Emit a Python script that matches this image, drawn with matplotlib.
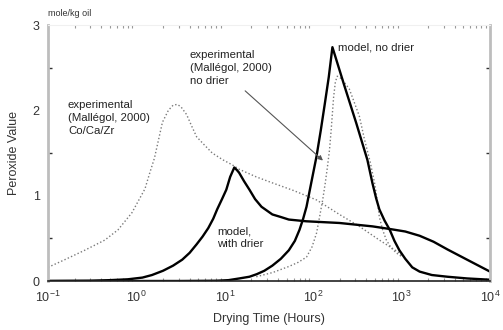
import numpy as np
import matplotlib.pyplot as plt
from matplotlib.ticker import LogLocator, MultipleLocator, FixedLocator

plt.rcParams['font.family'] = ['Liberation Sans', 'DejaVu Sans']

# experimental (Mallégol, 2000) Co/Ca/Zr  -- dotted
exp_drier_t = [0.1, 0.155, 0.26, 0.44, 0.62, 0.89, 1.08, 1.25, 1.4, 1.6, 1.97, 2.3, 2.6, 2.9,
               3.2, 3.7, 4.2, 4.8, 5.8, 7.2, 9.5, 12.2, 14.5, 22.7, 34.5, 60, 109, 198, 333,
               560, 944, 1020]
exp_drier_y = [0.16, 0.25, 0.36, 0.48, 0.60, 0.80, 0.96, 1.08, 1.25, 1.44, 1.86, 2.0, 2.06, 2.07,
               2.04, 1.95, 1.82, 1.69, 1.60, 1.50, 1.42, 1.36, 1.31, 1.22, 1.15, 1.06, 0.95,
               0.78, 0.64, 0.48, 0.33, 0.28]

# experimental (Mallégol, 2000) no drier -- dotted
exp_nodrier_t = [22.7, 35, 53, 68, 84, 97, 109, 118, 128, 137, 145, 153, 160, 170, 178, 187,
                 210, 256, 290, 333, 380, 440, 494, 530, 560, 610, 672, 760, 870, 1020]
exp_nodrier_y = [0.05, 0.10, 0.17, 0.22, 0.28, 0.40, 0.56, 0.75, 0.95, 1.15, 1.34, 1.54, 1.78,
                 2.15, 2.33, 2.40, 2.37, 2.25, 2.10, 1.93, 1.66, 1.40, 1.15, 0.95, 0.75, 0.60,
                 0.48, 0.39, 0.33, 0.28]

# model, with drier -- solid
mod_drier_t = [0.1, 0.3, 0.5, 0.8, 1.17, 1.5, 2.0, 2.6, 3.3, 4.0, 4.8, 5.6, 6.5, 7.4, 8.2, 9.3,
               10.4, 11.5, 12.8, 13.7, 14.5, 16.5, 19, 22, 26, 34.5, 43, 53, 83, 198, 470, 730,
               1100, 1600, 2300, 3300, 5500, 10000]
mod_drier_y = [0.0, 0.003, 0.01, 0.02, 0.04, 0.07, 0.12, 0.18, 0.25, 0.33, 0.43, 0.52, 0.62,
               0.73, 0.84, 0.96, 1.07, 1.22, 1.33, 1.30, 1.27, 1.17, 1.07, 0.96, 0.87, 0.78,
               0.75, 0.72, 0.70, 0.68, 0.64, 0.61, 0.58, 0.53, 0.46, 0.37, 0.25, 0.11]

# model, no drier -- solid
mod_nodrier_t = [0.1, 3, 8, 11, 14.6, 19, 23, 28, 34.5, 43, 53, 62, 70, 77, 84, 95, 109, 122,
                 135, 150, 165, 225, 307, 410, 467, 515, 560, 640, 734, 830, 944, 1100, 1320,
                 1600, 2200, 3300, 5500, 10000]
mod_nodrier_y = [0.0, 0.0, 0.003, 0.01, 0.03, 0.05, 0.08, 0.12, 0.18, 0.26, 0.36, 0.47, 0.60,
                 0.73, 0.87, 1.15, 1.46, 1.77, 2.07, 2.39, 2.74, 2.29, 1.85, 1.42, 1.15, 0.97,
                 0.84, 0.71, 0.60, 0.47, 0.36, 0.26, 0.16, 0.11, 0.07, 0.05, 0.03, 0.015]

fig = plt.figure(figsize=(5.03, 3.30), dpi=100)
ax = fig.add_axes([48 / 503, 1 - 281 / 330, 442 / 503, 256 / 330])

dot = dict(color='#7a7a7a', lw=1.0, linestyle=(0, (1, 1.6)))
sol = dict(color='black', lw=1.7)
ax.plot(exp_drier_t, exp_drier_y, **dot)
ax.plot(exp_nodrier_t, exp_nodrier_y, **dot)
ax.plot(mod_drier_t, mod_drier_y, **sol)
ax.plot(mod_nodrier_t, mod_nodrier_y, **sol)

ax.set_xscale('log')
ax.set_xlim(0.1, 1e4)
ax.set_ylim(0, 3)

ax.xaxis.set_major_locator(LogLocator(base=10, numticks=10))
ax.xaxis.set_minor_locator(LogLocator(base=10, subs=np.arange(2, 10), numticks=10))
ax.yaxis.set_major_locator(FixedLocator([0, 1, 2, 3]))
ax.yaxis.set_minor_locator(MultipleLocator(0.5))

ax.tick_params(which='both', direction='in', top=True, right=True, labelsize=9,
               colors='#222222', labelcolor='#333333')
ax.tick_params(which='major', length=0, pad=6)
ax.tick_params(axis='y', which='minor', length=3, width=1, color='#333333')
ax.tick_params(axis='x', which='minor', length=2, width=0.8, color='#999999')

for side in ['left', 'right']:
    ax.spines[side].set_color('#bdbdbd')
    ax.spines[side].set_linewidth(2)
ax.spines['top'].set_color('#f0f0f0')
ax.spines['top'].set_linewidth(0.8)
ax.spines['bottom'].set_color('#222222')
ax.spines['bottom'].set_linewidth(1.2)

ax.set_xlabel('Drying Time (Hours)', fontsize=9, color='#333333', labelpad=6)
ax.set_ylabel('Peroxide Value', fontsize=9, color='#333333', labelpad=9)
ax.text(0.1, 3.08, 'mole/kg oil', fontsize=6.5, color='#333333', va='bottom')

tfs = 8.2
ax.text(0.168, 2.12, 'experimental\n(Mallégol, 2000)\nCo/Ca/Zr', fontsize=tfs,
        color='#222222', va='top', linespacing=1.4)
ax.text(4.0, 2.71, 'experimental\n(Mallégol, 2000)\nno drier', fontsize=tfs,
        color='#222222', va='top', linespacing=1.4)
ax.text(190, 2.74, 'model, no drier', fontsize=tfs, color='#222222', va='center')
ax.text(8.2, 0.64, 'model,\nwith drier', fontsize=tfs, color='#222222', va='top',
        linespacing=1.3)

ax.annotate('', xy=(136, 1.39), xytext=(16.1, 2.25),
            arrowprops=dict(arrowstyle='-|>', color='#555555', lw=0.8,
                            mutation_scale=7))

fig.savefig('out.png', dpi=100)
